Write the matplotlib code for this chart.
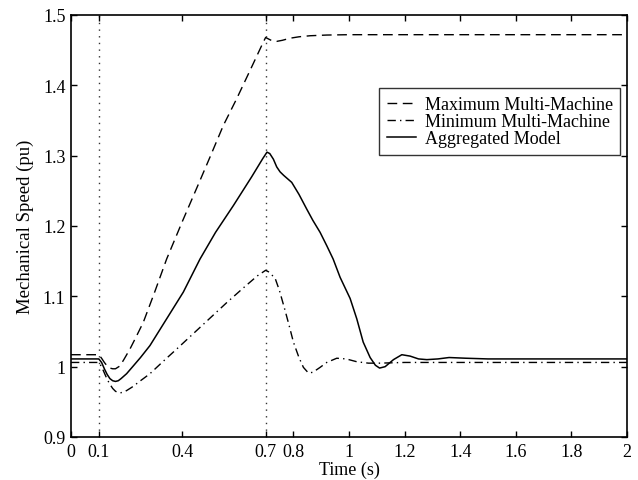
import matplotlib
matplotlib.use("Agg")
import matplotlib.pyplot as plt

plt.rcParams["font.family"] = ["Liberation Serif", "DejaVu Serif"]

# Maximum speed among the machines of the multi-machine model
t_max = [0, 0.1, 0.11, 0.12, 0.13, 0.14, 0.15, 0.16, 0.176, 0.19, 0.212, 0.235,
         0.26, 0.30, 0.344, 0.40, 0.46, 0.50, 0.548, 0.596, 0.645, 0.69, 0.70,
         0.71, 0.725, 0.74, 0.76, 0.788, 0.82, 0.86, 0.92, 1.0, 1.5, 2.0]
w_max = [1.017, 1.017, 1.012, 1.006, 1.001, 0.998, 0.997, 0.997, 1.001, 1.010,
         1.025, 1.043, 1.063, 1.105, 1.153, 1.206, 1.261, 1.298, 1.343, 1.381,
         1.422, 1.460, 1.468, 1.466, 1.463, 1.4625, 1.464, 1.467, 1.469, 1.4705,
         1.4715, 1.472, 1.472, 1.472]

# Minimum speed among the machines of the multi-machine model
t_min = [0, 0.1, 0.11, 0.12, 0.13, 0.14, 0.15, 0.16, 0.17, 0.18, 0.19, 0.2,
         0.22, 0.25, 0.284, 0.33, 0.38, 0.44, 0.5, 0.56, 0.62, 0.67, 0.70, 0.71,
         0.734, 0.75, 0.77, 0.785, 0.80, 0.82, 0.836, 0.854, 0.87, 0.896, 0.92,
         0.956, 0.99, 1.028, 1.07, 1.11, 1.2, 1.5, 2.0]
w_min = [1.006, 1.006, 1.000, 0.991, 0.982, 0.975, 0.969, 0.965, 0.963, 0.963,
         0.964, 0.966, 0.971, 0.980, 0.990, 1.007, 1.025, 1.047, 1.069, 1.091,
         1.112, 1.129, 1.137, 1.135, 1.126, 1.108, 1.080, 1.058, 1.035, 1.013,
         0.999, 0.991, 0.992, 0.999, 1.006, 1.012, 1.011, 1.007, 1.005, 1.005,
         1.006, 1.006, 1.006]

# Speed of the aggregated (single equivalent machine) model
t_agg = [0, 0.1, 0.11, 0.12, 0.13, 0.14, 0.15, 0.16, 0.17, 0.18, 0.20, 0.224,
         0.25, 0.284, 0.344, 0.404, 0.464, 0.52, 0.584, 0.65, 0.69, 0.705,
         0.715, 0.728, 0.74, 0.752, 0.765, 0.794, 0.82, 0.848, 0.87, 0.896,
         0.92, 0.943, 0.968, 1.004, 1.028, 1.051, 1.076, 1.095, 1.11, 1.13,
         1.16, 1.19, 1.22, 1.25, 1.28, 1.32, 1.36, 1.42, 1.5, 2.0]
w_agg = [1.011, 1.011, 1.006, 0.997, 0.989, 0.983, 0.980, 0.979, 0.980, 0.983,
         0.990, 1.001, 1.013, 1.030, 1.068, 1.106, 1.153, 1.191, 1.229, 1.270,
         1.296, 1.305, 1.303, 1.295, 1.284, 1.277, 1.272, 1.262, 1.245, 1.224,
         1.208, 1.191, 1.172, 1.153, 1.127, 1.097, 1.068, 1.035, 1.013, 1.002,
         0.998, 1.000, 1.010, 1.017, 1.015, 1.011, 1.010, 1.011, 1.013, 1.012,
         1.011, 1.011]

# Fault inception and clearing instants
event_times = [0.1, 0.7]

x_ticks = [0, 0.1, 0.4, 0.7, 0.8, 1, 1.2, 1.4, 1.6, 1.8, 2]
x_tick_labels = ["0", "0.1", "0.4", "0.7", "0.8", "1", "1.2", "1.4", "1.6", "1.8", "2"]
y_ticks = [0.9, 1.0, 1.1, 1.2, 1.3, 1.4, 1.5]
y_tick_labels = ["0.9", "1", "1.1", "1.2", "1.3", "1.4", "1.5"]

fig = plt.figure(figsize=(6.38, 4.81), dpi=100)
ax = fig.add_axes([71 / 638, 1 - 438 / 481, 556 / 638, 422 / 481])

for te in event_times:
    ax.axvline(te, color="0.2", lw=1.0, dashes=(1, 3.8), zorder=1)

ax.plot(t_max, w_max, color="black", lw=1.0, dashes=(7, 4),
        label="Maximum Multi-Machine")
ax.plot(t_min, w_min, color="black", lw=1.0, dashes=(6, 3, 1, 3),
        label="Minimum Multi-Machine")
ax.plot(t_agg, w_agg, color="black", lw=1.1, label="Aggregated Model")

ax.set_xlim(0, 2)
ax.set_ylim(0.9, 1.5)
ax.set_xticks(x_ticks)
ax.set_xticklabels(x_tick_labels)
ax.set_yticks(y_ticks)
ax.set_yticklabels(y_tick_labels)
ax.tick_params(direction="in", length=4, width=1.0, top=True, right=True,
               labelsize=13, pad=4)
for sp in ax.spines.values():
    sp.set_linewidth(1.2)

ax.set_xlabel("Time (s)", fontsize=13, labelpad=1)
ax.set_ylabel("Mechanical Speed (pu)", fontsize=13.5, labelpad=6)

leg = ax.legend(loc="upper right", bbox_to_anchor=(0.988, 0.826),
                borderaxespad=0, fontsize=13, frameon=True, fancybox=False,
                edgecolor="black", handlelength=1.6, handletextpad=0.5,
                labelspacing=0.0, borderpad=0.42)
leg.get_frame().set_linewidth(1.0)

fig.savefig("out.png", dpi=100)
